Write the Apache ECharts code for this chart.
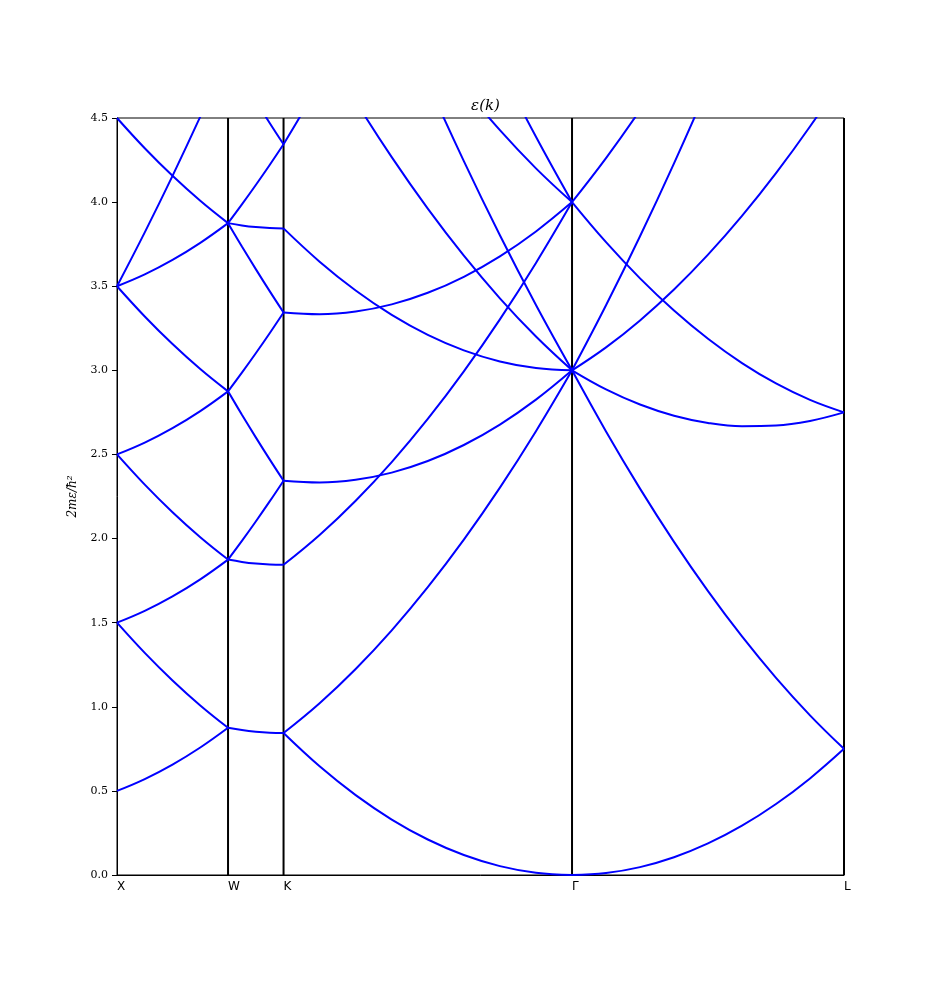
<!DOCTYPE html>
<html>
<head>
<meta charset="utf-8">
<script src="https://cdn.jsdelivr.net/npm/echarts@6/dist/echarts.min.js"></script>
<style>html,body{margin:0;padding:0;background:#fff;}#chart{width:938px;height:983px;}</style>
</head>
<body>
<div id="chart"></div>
<script>
// High-symmetry points along the path (path-length coordinate) and their labels
const tickLabels = ['X', 'W', 'K', 'Γ', 'L'];
const tickPos = [0, 0.353553, 0.530330, 1.448889, 2.314914];
const vlinePos = [0.353553, 0.530330, 1.448889, 2.314914];
const yTicks = [0, 0.5, 1, 1.5, 2, 2.5, 3, 3.5, 4, 4.5];

// Segment X -> W
const xsXW = [0, 0.088388, 0.176777, 0.265165, 0.353553];
const bandsXW = [
  [0.5, 0.5703, 0.6563, 0.7578, 0.875],
  [1.5, 1.3203, 1.1563, 1.0078, 0.875],
  [1.5, 1.5703, 1.6563, 1.7578, 1.875],
  [2.5, 2.3203, 2.1563, 2.0078, 1.875],
  [2.5, 2.5703, 2.6563, 2.7578, 2.875],
  [3.5, 3.3203, 3.1563, 3.0078, 2.875],
  [3.5, 3.5703, 3.6563, 3.7578, 3.875],
  [3.5, 3.8203, 4.1563, 4.5078, 4.875],
  [4.5, 4.3203, 4.1563, 4.0078, 3.875]
];

// Segment W -> K
const xsWK = [0.353553, 0.397748, 0.441942, 0.486136, 0.530330];
const bandsWK = [
  [0.875, 0.8613, 0.8516, 0.8457, 0.8438],
  [1.875, 1.8613, 1.8516, 1.8457, 1.8438],
  [1.875, 1.9863, 2.1016, 2.2207, 2.3438],
  [2.875, 2.7363, 2.6016, 2.4707, 2.3438],
  [2.875, 2.9863, 3.1016, 3.2207, 3.3438],
  [3.875, 3.7363, 3.6016, 3.4707, 3.3438],
  [3.875, 3.8613, 3.8516, 3.8457, 3.8438],
  [3.875, 3.9863, 4.1016, 4.2207, 4.3438],
  [4.875, 4.7363, 4.6016, 4.4707, 4.3438]
];

// Segment K -> Gamma
const xsKG = [0.530330, 0.645150, 0.759970, 0.874790, 0.989610, 1.104429, 1.219249, 1.334069, 1.448889];
const bandsKG = [
  [0.8438, 0.6460, 0.4746, 0.3296, 0.2109, 0.1187, 0.0527, 0.0132, 0],
  [0.8438, 1.0210, 1.2246, 1.4546, 1.7109, 1.9937, 2.3027, 2.6382, 3],
  [2.3438, 2.3335, 2.3496, 2.3921, 2.4609, 2.5562, 2.6777, 2.8257, 3],
  [3.8438, 3.6460, 3.4746, 3.3296, 3.2109, 3.1187, 3.0527, 3.0132, 3],
  [5.3438, 4.9585, 4.5996, 4.2671, 3.9609, 3.6812, 3.4277, 3.2007, 3],
  [6.8438, 6.2710, 5.7246, 5.2046, 4.7109, 4.2437, 3.8027, 3.3882, 3],
  [1.8438, 2.0210, 2.2246, 2.4546, 2.7109, 2.9937, 3.3027, 3.6382, 4],
  [3.3438, 3.3335, 3.3496, 3.3921, 3.4609, 3.5562, 3.6777, 3.8257, 4],
  [6.3438, 5.9585, 5.5996, 5.2671, 4.9609, 4.6812, 4.4277, 4.2007, 4],
  [7.8438, 7.2710, 6.7246, 6.2046, 5.7109, 5.2437, 4.8027, 4.3882, 4],
  [4.3438, 4.7085, 5.0996, 5.5171, 5.9609, 6.4312, 6.9277, 7.4507, 8]
];

// Segment Gamma -> L
const xsGL = [1.448889, 1.557142, 1.665395, 1.773649, 1.881902, 1.990155, 2.098408, 2.206661, 2.314914];
const bandsGL = [
  [0, 0.0117, 0.0469, 0.1055, 0.1875, 0.2930, 0.4219, 0.5742, 0.75],
  [3, 2.6367, 2.2969, 1.9805, 1.6875, 1.4180, 1.1719, 0.9492, 0.75],
  [3, 2.8867, 2.7969, 2.7305, 2.6875, 2.6680, 2.6719, 2.6992, 2.75],
  [3, 3.1367, 3.2969, 3.4805, 3.6875, 3.9180, 4.1719, 4.4492, 4.75],
  [3, 3.3867, 3.7969, 4.2305, 4.6875, 5.1680, 5.6719, 6.1992, 6.75],
  [4, 3.7617, 3.5469, 3.3555, 3.1875, 3.0430, 2.9219, 2.8242, 2.75],
  [4, 4.2617, 4.5469, 4.8555, 5.1875, 5.5430, 5.9219, 6.3242, 6.75]
];

const segments = [
  [xsXW, bandsXW],
  [xsWK, bandsWK],
  [xsKG, bandsKG],
  [xsGL, bandsGL]
];

const series = [];
vlinePos.forEach(function (x) {
  series.push({
    type: 'line',
    data: [[x, yTicks[0]], [x, yTicks[yTicks.length - 1]]],
    symbol: 'none',
    clip: false,
    silent: true,
    z: 1,
    lineStyle: { color: '#000000', width: 2 }
  });
});
segments.forEach(function (seg) {
  const xs = seg[0];
  seg[1].forEach(function (band) {
    series.push({
      type: 'line',
      data: xs.map(function (x, i) { return [x, band[i]]; }),
      symbol: 'none',
      smooth: 0.4,
      z: 3,
      silent: true,
      lineStyle: { color: '#0000ff', width: 2 }
    });
  });
});

const chart = echarts.init(document.getElementById('chart'), null, { renderer: 'canvas' });
chart.setOption({
  animation: false,
  backgroundColor: '#ffffff',
  title: {
    text: 'ε(k)',
    left: 480.5,
    top: 94,
    textAlign: 'center',
    textStyle: {
      fontFamily: 'DejaVu Serif',
      fontStyle: 'italic',
      fontWeight: 'normal',
      fontSize: 15,
      color: '#000'
    }
  },
  grid: {
    left: 117, right: 94, top: 118, bottom: 108,
    show: true, borderColor: '#000', borderWidth: 1, backgroundColor: 'transparent'
  },
  xAxis: {
    type: 'value',
    min: tickPos[0],
    max: tickPos[tickPos.length - 1],
    splitLine: { show: false },
    axisLine: { lineStyle: { color: '#000', width: 1 } },
    axisTick: { show: false },
    axisLabel: {
      customValues: tickPos,
      showMinLabel: true,
      showMaxLabel: true,
      align: 'left',
      margin: 6,
      fontFamily: 'DejaVu Sans',
      fontSize: 12,
      color: '#000',
      formatter: function (v) {
        let best = 0;
        tickPos.forEach(function (p, i) { if (Math.abs(p - v) < Math.abs(tickPos[best] - v)) best = i; });
        return tickLabels[best];
      }
    }
  },
  yAxis: {
    type: 'value',
    min: yTicks[0],
    max: yTicks[yTicks.length - 1],
    interval: 0.5,
    name: '2mε/ħ²',
    nameLocation: 'middle',
    nameGap: 38,
    nameRotate: 90,
    nameTextStyle: {
      fontFamily: 'DejaVu Serif',
      fontStyle: 'italic',
      fontSize: 12,
      color: '#000'
    },
    splitLine: { show: false },
    axisLine: { show: true, lineStyle: { color: '#000', width: 1 } },
    axisTick: { show: true, length: 5, lineStyle: { color: '#000', width: 1 } },
    axisLabel: {
      margin: 9,
      fontFamily: 'DejaVu Serif',
      fontSize: 11,
      color: '#000',
      formatter: function (v) { return v.toFixed(1); }
    }
  },
  series: series
});
</script>
</body>
</html>
